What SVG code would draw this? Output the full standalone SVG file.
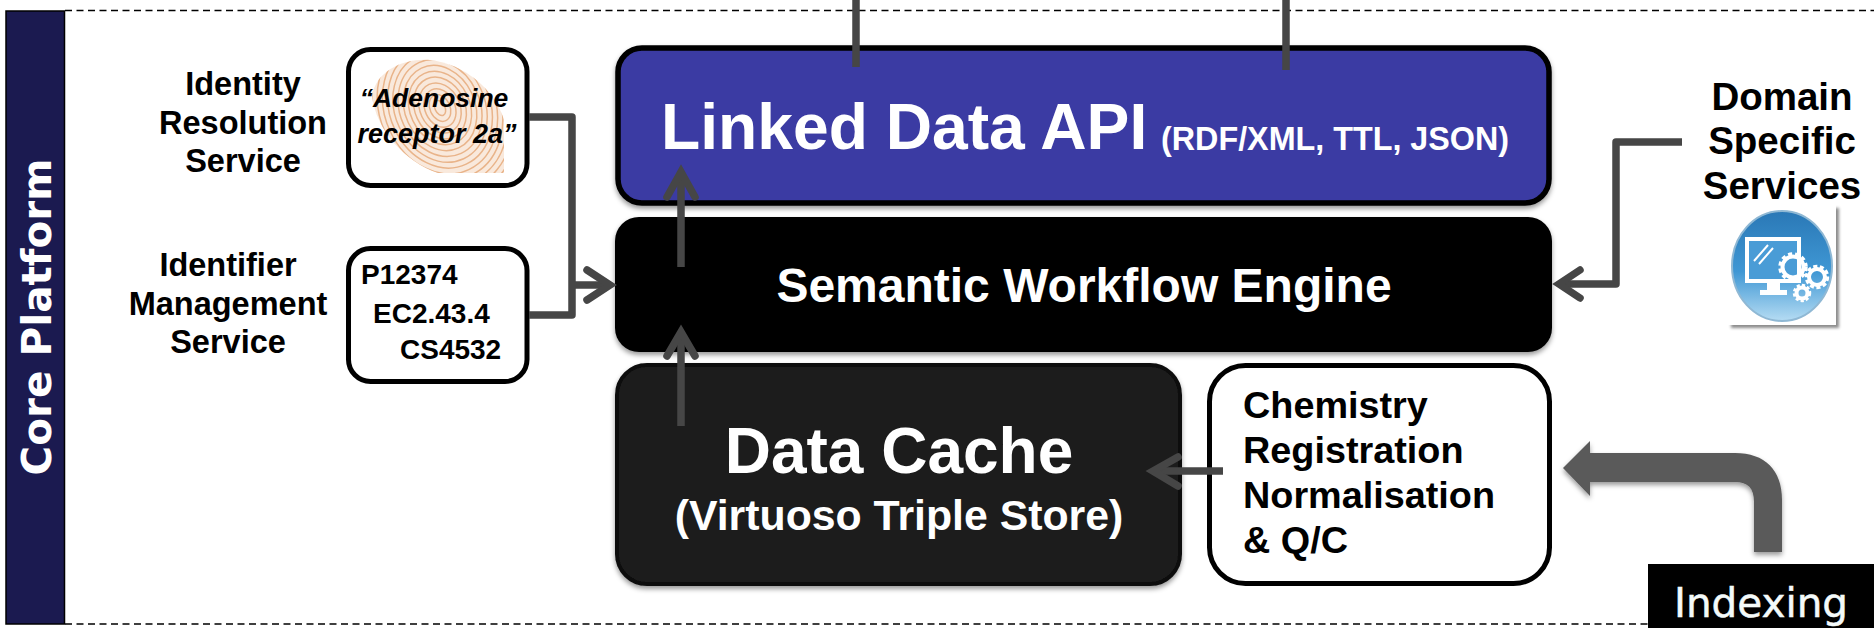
<svg xmlns="http://www.w3.org/2000/svg" width="1874" height="628" viewBox="0 0 1874 628">
<style>
text{font-family:"Liberation Sans",Arial,sans-serif;font-weight:bold}
.lbl{font-size:32.500px;fill:#000;text-anchor:middle}
.id{font-size:28px;fill:#000}
.dom{font-size:38.500px;fill:#000;text-anchor:middle}
.chem{font-size:37.800px;fill:#000}
.w{fill:#fff;text-anchor:middle}
.con{fill:none;stroke:#464646;stroke-width:7.500;stroke-linejoin:round}
.head{fill:none;stroke:#464646;stroke-width:7.500;stroke-linecap:round;stroke-linejoin:miter;stroke-miterlimit:10}
.dash{fill:none;stroke:#000;stroke-width:1.600;stroke-dasharray:7 4.500}
.fp{fill:none;stroke:#e9b48a;stroke-width:1.500}
.gr{fill:none;stroke:#fff;stroke-width:4}
.gt{fill:none;stroke:#fff;stroke-width:3.500}
</style>
<defs>
<filter id="sh" x="-5%" y="-5%" width="110%" height="115%"><feDropShadow dx="0" dy="3" stdDeviation="2.500" flood-color="#000" flood-opacity=".4"/></filter>
<filter id="sh2" x="-5%" y="-5%" width="115%" height="115%"><feDropShadow dx="3" dy="3" stdDeviation="1.800" flood-color="#000" flood-opacity=".45"/></filter>
<linearGradient id="ball" x1="0" y1="0" x2="0" y2="1"><stop offset="0" stop-color="#2a78b6"/><stop offset=".55" stop-color="#3f97d4"/><stop offset="1" stop-color="#b5dcf3"/></linearGradient>
<clipPath id="fpclip"><path d="M372 96C376 70 405 58 430 60C465 64 495 90 504 120V173H438C405 162 376 130 372 96Z"/></clipPath>
</defs>
<rect width="1874" height="628" fill="#fff"/>
<path class="dash" d="M65 10.500H1874M65 624H1650"/>
<g id="core-platform"><rect x="6" y="11" width="58.500" height="613" fill="#1b1a50" stroke="#000" stroke-width="1.500"/>
<text class="w" transform="translate(51 317) rotate(-90)" font-size="40.500" style="font-family:'DejaVu Sans',sans-serif">Core Platform</text></g>

<g id="linked-data-api"><rect x="618" y="48" width="931" height="155" rx="24" fill="#3a3aa3" stroke="#000" stroke-width="5.500" filter="url(#sh)"/>
<text x="661" y="149" fill="#fff" font-size="64.200">Linked Data API</text>
<text x="1161" y="150" fill="#fff" font-size="32.300">(RDF/XML, TTL, JSON)</text></g>

<g id="semantic-workflow-engine"><rect x="615" y="217" width="937" height="135" rx="24" fill="#000" filter="url(#sh)"/>
<text class="w" x="1084" y="302" font-size="48">Semantic Workflow Engine</text></g>

<g id="data-cache"><rect x="617" y="365" width="563" height="219" rx="30" fill="#1f1f1f" stroke="#0c0c0c" stroke-width="4" filter="url(#sh)"/>
<text class="w" x="899" y="473" font-size="64">Data Cache</text>
<text class="w" x="899" y="530" font-size="42.800">(Virtuoso Triple Store)</text></g>

<g id="chemistry-registration"><rect x="1209.500" y="365.500" width="340" height="218" rx="36" fill="#fff" stroke="#000" stroke-width="5"/>
<text class="chem" x="1243" y="418">Chemistry</text>
<text class="chem" x="1243" y="463">Registration</text>
<text class="chem" x="1243" y="508">Normalisation</text>
<text class="chem" x="1243" y="553">&amp; Q/C</text></g>

<g id="identity-resolution"><rect x="348.500" y="49.500" width="178.500" height="136" rx="22" fill="#fff" stroke="#000" stroke-width="5"/>
<g clip-path="url(#fpclip)"><rect x="370" y="58" width="136" height="116" fill="#f9e9dc"/>
<ellipse class="fp" cx="440" cy="108" rx="5" ry="8" transform="rotate(-25 440 108)"/><ellipse class="fp" cx="440" cy="108" rx="10" ry="14" transform="rotate(-25 440 108)"/><ellipse class="fp" cx="440" cy="108" rx="15" ry="20" transform="rotate(-25 440 108)"/><ellipse class="fp" cx="440" cy="108" rx="20" ry="26" transform="rotate(-25 440 108)"/><ellipse class="fp" cx="440" cy="108" rx="25" ry="32" transform="rotate(-25 440 108)"/><ellipse class="fp" cx="440" cy="108" rx="30" ry="38" transform="rotate(-25 440 108)"/><ellipse class="fp" cx="440" cy="108" rx="35" ry="44" transform="rotate(-25 440 108)"/><ellipse class="fp" cx="440" cy="108" rx="40" ry="50" transform="rotate(-25 440 108)"/><ellipse class="fp" cx="440" cy="108" rx="45" ry="56" transform="rotate(-25 440 108)"/><ellipse class="fp" cx="440" cy="108" rx="50" ry="62" transform="rotate(-25 440 108)"/><ellipse class="fp" cx="440" cy="108" rx="55" ry="68" transform="rotate(-25 440 108)"/><ellipse class="fp" cx="440" cy="108" rx="60" ry="74" transform="rotate(-25 440 108)"/><ellipse class="fp" cx="440" cy="108" rx="65" ry="80" transform="rotate(-25 440 108)"/><ellipse class="fp" cx="440" cy="108" rx="70" ry="86" transform="rotate(-25 440 108)"/><ellipse class="fp" cx="440" cy="108" rx="75" ry="92" transform="rotate(-25 440 108)"/>
</g>
<text x="434" y="107" font-size="26.500" font-style="italic" text-anchor="middle">“Adenosine</text>
<text x="437" y="143" font-size="27" font-style="italic" text-anchor="middle">receptor 2a”</text></g>

<g id="identifier-management"><rect x="348.500" y="248.500" width="178.500" height="133" rx="22" fill="#fff" stroke="#000" stroke-width="5"/>
<text class="id" x="361" y="284">P12374</text>
<text class="id" x="373" y="323">EC2.43.4</text>
<text class="id" x="400" y="359">CS4532</text></g>

<g id="identity-label"><text class="lbl" x="243" y="95">Identity</text><text class="lbl" x="243" y="134">Resolution</text><text class="lbl" x="243" y="172">Service</text></g>
<g id="identifier-label"><text class="lbl" x="228" y="276">Identifier</text><text class="lbl" x="228" y="315">Management</text><text class="lbl" x="228" y="353">Service</text></g>

<g id="domain-services"><text class="dom" x="1782" y="110">Domain</text><text class="dom" x="1782" y="154">Specific</text><text class="dom" x="1782" y="199">Services</text>
<g id="services-icon"><rect x="1728" y="205" width="108" height="120" fill="#fff" filter="url(#sh2)"/>
<ellipse cx="1782" cy="266" rx="50" ry="55" fill="url(#ball)" stroke="#8fb8d4" stroke-width="2"/>
<rect x="1747" y="239" width="52" height="42" fill="#4a9cd6" stroke="#fff" stroke-width="4"/>
<path d="M1767 283h13v7h7v5h-27v-5h7z" fill="#fff"/>
<path d="M1754 261l14-16M1759 264l14-16" stroke="#fff" stroke-width="2" fill="none"/>
<circle cx="1793" cy="267" r="10.500" fill="#3f97d4" class="gr"/><circle cx="1793" cy="267" r="13" class="gt" stroke-dasharray="4 3"/>
<circle cx="1817" cy="277" r="8" fill="#3f97d4" class="gr"/><circle cx="1817" cy="277" r="10.500" class="gt" stroke-dasharray="4 2.500"/>
<circle cx="1802" cy="293" r="5.500" fill="#3f97d4" class="gr"/><circle cx="1802" cy="293" r="7.500" class="gt" stroke-dasharray="3 2"/>
</g></g>

<g id="indexing"><rect x="1648" y="564" width="226" height="64" fill="#000"/>
<text x="1761" y="617" font-size="40.500" text-anchor="middle" fill="#f4fafa" stroke="#f4fafa" stroke-width=".5" style="font-weight:normal;font-family:'DejaVu Sans',sans-serif">Indexing</text></g>

<g id="connectors">
<path class="con" d="M856 0V67M1286 0V70"/>
<path class="con" d="M529 117H572V315H529M572 285H610"/>
<path class="head" d="M587 270L610 285L587 300"/>
<path class="con" d="M681 267V172"/>
<path class="head" d="M667 197L681 172L695 197"/>
<path class="con" d="M681 426V332"/>
<path class="head" d="M667 356L681 332L695 356"/>
<path class="con" d="M1223 471H1153"/>
<path class="head" d="M1178 457L1153 471L1178 486"/>
<path class="con" d="M1682 142H1616V284H1559"/>
<path class="head" d="M1580 270L1559 284L1580 298"/>
<path fill="#5a5a5a" filter="url(#sh)" d="M1563 468L1590 441V453H1735C1765 453 1782 470 1782 500V552H1754V502C1754 488 1748 482 1735 482H1590V496Z"/>
</g>
</svg>
